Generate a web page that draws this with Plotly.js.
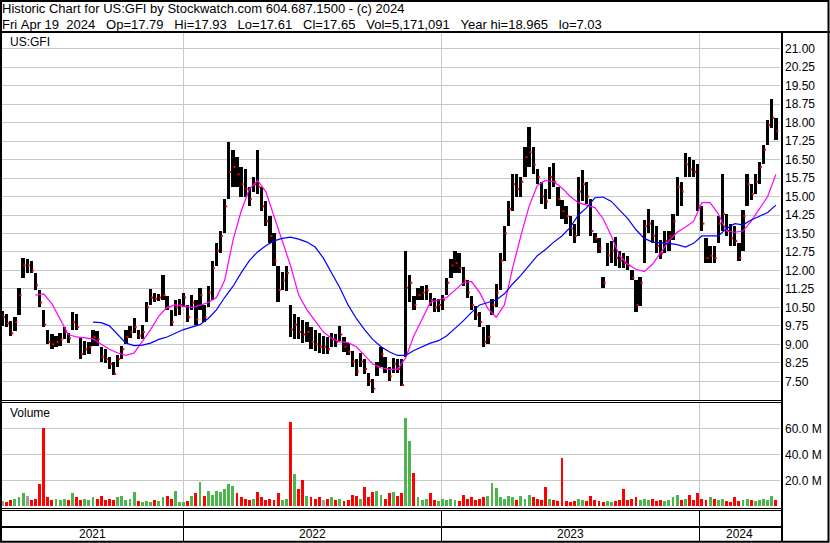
<!DOCTYPE html>
<html>
<head>
<meta charset="utf-8">
<script src="https://cdn.plot.ly/plotly-3.0.1.min.js"></script>
<style>html,body{margin:0;padding:0;background:#fff;}#chart{width:830px;height:543px;}</style>
</head>
<body>
<div id="chart"></div>
<script>
// ---- text ----
const headerLine1 = "Historic Chart for US:GFI by Stockwatch.com 604.687.1500 - (c) 2024";
const headerLine2 = "Fri Apr 19  2024   Op=17.79   Hi=17.93   Lo=17.61   Cl=17.65   Vol=5,171,091   Year hi=18.965   lo=7.03";
const symbolLabel = "US:GFI";
const volumeLabel = "Volume";
const yearLabels = ["2021", "2022", "2023", "2024"];
// trading-day index at which each new year starts, and last trading day shown
const yearStarts = [176, 427, 678];
const lastDay = 756;
const priceTicks = [7.5, 8.25, 9, 9.75, 10.5, 11.25, 12, 12.75, 13.5, 14.25, 15, 15.75, 16.5, 17.25, 18, 18.75, 19.5, 20.25, 21];
const volTickVals = [20, 40, 60];
const volTickText = ["20.0 M", "40.0 M", "60.0 M"];

// ---- price data: one bar per 4 trading days ----
const lows = [9.75,9.7,9.35,9.55,10.2,11.7,11.9,11.9,11.2,10.5,
9.7,9.0,8.8,8.9,8.95,9.2,9.05,9.6,9.6,8.4,
8.55,8.6,8.95,8.95,8.3,8.25,8.0,7.75,8.1,8.4,
9.0,9.25,9.45,9.2,9.2,9.9,10.6,10.7,10.75,10.8,
10.4,9.75,10.15,10.2,10.5,9.9,10.4,9.8,10.4,9.9,
10.5,10.8,12.2,12.7,13.5,14.9,15.4,15.4,15.0,15.0,
14.6,15.2,15.1,14.4,13.8,13.1,12.2,10.7,11.2,11.15,
9.3,9.2,9.2,9.05,9.1,8.8,8.75,8.65,8.6,8.6,
8.9,8.9,9.15,8.7,8.55,8.1,7.7,8.1,7.8,7.3,
7.03,7.7,8.1,7.85,7.5,7.85,7.85,7.3,8.5,10.7,
10.4,10.8,10.8,10.8,10.55,10.3,10.3,10.4,11.0,11.7,
11.9,11.9,11.35,10.9,10.4,10.0,9.7,8.9,9.0,10.2,
10.5,11.2,12.4,13.8,14.4,15.0,15.0,15.8,16.2,15.9,
15.5,14.7,14.5,14.9,15.4,14.6,14.1,13.9,13.4,13.1,
13.4,14.8,14.7,13.4,13.1,12.7,11.3,12.2,12.3,12.2,
12.1,12.1,12.0,11.6,10.33,10.55,12.3,13.5,13.1,12.7,
12.45,12.7,12.8,13.25,14.2,14.6,15.8,15.8,15.8,14.4,
13.6,12.3,12.3,12.3,13.1,13.6,13.4,13.0,13.0,12.4,
12.8,14.6,14.85,15.1,15.5,16.3,17.1,17.8,17.3];
const highs = [10.35,10.25,9.95,10.1,11.3,12.5,12.45,12.4,11.9,11.2,
10.4,9.6,9.4,9.35,9.45,9.7,9.45,10.3,10.25,9.25,
9.15,9.1,9.6,9.55,8.9,8.8,8.5,8.3,8.55,8.95,
9.6,9.75,10.05,9.6,9.8,10.7,11.25,11.1,11.05,11.8,
10.95,10.4,10.8,10.85,11.1,10.6,11.0,10.8,11.3,10.6,
11.35,12.4,13.1,13.6,14.9,17.2,16.9,16.6,16.2,16.1,
15.4,15.8,16.9,15.4,14.8,14.2,13.5,12.2,11.95,12.2,
10.6,10.25,10.1,10.0,9.9,9.7,9.6,9.45,9.35,9.3,
9.45,9.4,9.75,9.3,9.05,8.75,8.4,8.65,8.4,7.85,
7.6,8.3,8.9,8.5,8.1,8.45,8.4,8.4,12.8,11.8,
10.95,11.3,11.35,11.4,11.1,10.9,10.85,11.0,11.7,12.45,
12.8,12.7,12.15,11.6,10.95,10.55,10.3,9.7,9.8,10.85,
11.45,12.7,13.8,14.8,15.9,15.9,15.8,17.0,17.83,17.0,
16.1,15.6,15.3,16.2,16.35,15.4,14.85,14.6,14.2,13.9,
15.8,16.07,15.6,14.9,13.5,13.3,11.75,13.1,13.2,13.37,
12.8,12.7,12.6,12.0,11.6,11.75,14.05,14.5,14.05,13.8,
13.25,13.6,13.6,14.3,15.8,15.6,16.75,16.6,16.5,16.3,
14.6,13.3,13.0,13.0,14.2,15.93,14.3,13.9,13.8,13.1,
14.45,15.9,15.5,15.9,16.4,17.1,18.1,18.97,18.2];
const closes = [10.1,9.85,9.45,9.9,11.0,12.2,12.2,12.0,11.4,10.7,
9.8,9.1,9.0,9.1,9.2,9.5,9.25,9.9,9.7,8.6,
8.8,8.9,9.3,9.2,8.5,8.4,8.2,7.8,8.4,8.8,
9.3,9.5,9.7,9.35,9.5,10.5,10.9,10.85,10.9,11.0,
10.5,9.9,10.5,10.6,10.9,10.1,10.7,10.0,11.0,10.1,
11.1,12.1,12.8,13.4,14.6,16.0,16.2,15.9,15.5,15.3,
14.9,15.5,15.4,14.6,14.0,13.4,12.4,11.2,11.6,11.9,
9.6,9.8,9.5,9.4,9.5,9.1,9.0,8.9,8.9,8.8,
9.2,9.1,9.4,8.9,8.7,8.3,7.9,8.3,8.0,7.5,
7.2,8.1,8.6,8.0,7.7,8.2,8.0,7.35,11.3,11.5,
10.6,11.0,11.1,11.2,10.8,10.5,10.6,10.8,11.5,12.2,
12.3,12.1,11.6,11.1,10.6,10.2,9.9,9.1,9.3,10.6,
11.1,12.4,13.5,14.5,15.5,15.3,15.6,16.6,16.8,16.3,
15.8,15.0,14.8,15.8,15.6,14.9,14.4,14.2,13.7,13.4,
15.2,15.5,15.0,13.6,13.3,12.9,11.5,12.6,12.8,12.5,
12.4,12.3,12.2,11.7,10.6,11.5,13.8,13.9,13.4,13.0,
12.7,13.2,13.4,14.0,15.4,15.2,16.3,16.1,16.0,14.6,
13.9,12.5,12.6,12.5,13.9,14.3,13.6,13.3,13.2,12.5,
14.2,15.5,15.1,15.6,16.2,16.9,17.9,18.2,17.65];
// volume in millions of shares
const volumes = [4,3,5,6,7,10,8,5,6,17,
60,7,5,6,5,6,5,10,7,5,
6,5,7,6,8,5,6,5,7,8,
5,6,11,4,3,4,3,5,4,7,
8,6,12,3,3,4,8,10,19,8,
12,9,12,11,13,17,16,10,7,6,
5,6,11,7,5,6,5,10,5,6,
65,25,13,20,8,7,6,7,5,6,
7,5,6,4,5,9,8,6,15,7,
11,12,9,6,10,11,8,10,68,50,
26,7,5,6,10,5,4,6,5,6,
5,4,9,6,7,5,6,7,8,18,
14,7,6,8,7,5,8,6,9,7,
6,5,15,6,5,4,37,4,3,4,
6,5,4,8,5,4,3,4,3,4,
5,13,5,6,7,5,6,5,6,4,
5,4,5,7,9,5,6,9,5,10,
6,5,7,6,5,6,4,3,7,4,
5,6,5,4,5,6,5,8,5];
// moving averages, one reading per 8 trading days
const maFast = [null,null,null,null,11.0,11.05,10.65,10.05,9.4,9.3,
9.25,9.22,9.0,8.8,8.65,8.55,8.65,9.1,9.6,10.15,
10.5,10.6,10.55,10.5,10.58,10.7,10.9,11.6,13.2,14.4,
15.3,15.65,15.2,14.2,13.2,12.2,11.0,10.4,9.95,9.5,
9.25,9.1,9.07,8.9,8.55,8.2,8.05,7.98,7.98,8.45,
9.35,10.05,10.7,10.8,10.9,11.2,11.5,11.55,11.1,10.45,
10.1,10.6,12.1,13.4,14.6,15.45,15.65,15.6,15.35,15.0,
14.75,14.65,14.55,14.1,13.4,12.6,12.25,12.05,11.95,12.25,
12.7,13.2,13.55,13.75,14.0,14.75,14.75,14.3,13.6,13.55,
13.6,14.0,14.5,15.0,15.9];
const maSlow = [null,null,null,null,null,null,null,null,null,null,
null,9.9,9.88,9.75,9.4,9.05,8.95,8.97,9.05,9.2,
9.3,9.45,9.6,9.7,9.8,10.05,10.4,10.9,11.35,11.9,
12.4,12.75,13.0,13.2,13.3,13.35,13.27,13.15,12.95,12.5,
11.9,11.3,10.6,10.05,9.6,9.2,8.9,8.7,8.55,8.55,
8.75,8.9,9.05,9.15,9.35,9.65,9.95,10.3,10.6,10.7,
10.8,11.05,11.45,11.8,12.2,12.6,12.85,13.15,13.4,13.75,
14.25,14.55,14.95,14.98,14.8,14.45,14.1,13.65,13.3,13.15,
13.13,13.1,13.05,12.95,13.1,13.4,13.4,13.4,13.7,13.9,
13.85,14.05,14.2,14.35,14.65];

// ---- derived ----
const STEP = 4;
const days = lows.map((_, i) => i * STEP);
const maDays = maFast.map((_, i) => i * STEP * 2);
const ranges = highs.map((h, i) => h - lows[i]);
const volColors = closes.map((c, i) => {
  if (i === 0) return '#a0a0a0';
  if (c > closes[i - 1]) return '#4db54d';
  if (c < closes[i - 1]) return '#ff0000';
  return '#a0a0a0';
});

// ---- geometry helpers (pixel -> paper) ----
const W = 830, H = 543;
const px = v => v / W;
const py = v => 1 - v / H;
const X0 = 2, X1 = 780;
const xDomain = [px(X0), px(X1)];
const xRange = [-0.5, lastDay];

const FONT = 'Liberation Sans, Arial, sans-serif';
const gridGray = '#c8c8c8';

const traces = [
  {type: 'bar', x: days, base: lows, y: ranges, width: 3.2,
   marker: {color: '#000000', line: {width: 0}}, xaxis: 'x', yaxis: 'y', hoverinfo: 'skip'},
  {type: 'scatter', mode: 'markers', x: days.map(d => d + 1.5), y: closes,
   marker: {symbol: 'square', size: 2, color: '#ff0000', line: {width: 0}}, xaxis: 'x', yaxis: 'y'},
  {type: 'scatter', mode: 'lines', x: maDays, y: maFast, line: {color: '#ff00ff', width: 1.2}, xaxis: 'x', yaxis: 'y'},
  {type: 'scatter', mode: 'lines', x: maDays, y: maSlow, line: {color: '#0000ff', width: 1.2}, xaxis: 'x', yaxis: 'y'},
  {type: 'bar', x: days, y: volumes, width: 2.8, marker: {color: volColors, line: {width: 0}}, xaxis: 'x2', yaxis: 'y2'},
  {type: 'scatter', mode: 'markers', x: [], y: [], xaxis: 'x3', yaxis: 'y3'}
];

const bounds = [xRange[0]].concat(yearStarts, [lastDay]);
const yearMids = yearLabels.map((_, i) => (bounds[i] + bounds[i + 1]) / 2);

const headerFont = {family: FONT, size: 13, color: '#000'};
const annotations = [
  {text: headerLine1.replace(/ /g, '\u00a0'), xref: 'paper', yref: 'paper', x: px(0), y: py(9), xanchor: 'left', yanchor: 'middle', showarrow: false, font: headerFont},
  {text: headerLine2.replace(/ /g, '\u00a0'), xref: 'paper', yref: 'paper', x: px(0), y: py(24), xanchor: 'left', yanchor: 'middle', showarrow: false, font: headerFont},
  {text: symbolLabel, xref: 'paper', yref: 'paper', x: px(8), y: py(42), xanchor: 'left', yanchor: 'middle', showarrow: false, font: {family: FONT, size: 12, color: '#000'}},
  {text: volumeLabel, xref: 'paper', yref: 'paper', x: px(8), y: py(413), xanchor: 'left', yanchor: 'middle', showarrow: false, font: {family: FONT, size: 12, color: '#000'}}
].concat(yearLabels.map((t, i) => ({
  text: t, xref: 'x3', yref: 'paper', x: yearMids[i], y: py(534), xanchor: 'center', yanchor: 'middle', showarrow: false, font: {family: FONT, size: 12, color: '#000'}
})));

const hline = (y, w, x0 = 0, x1 = 782) => ({type: 'line', xref: 'paper', yref: 'paper', x0: px(x0), x1: px(x1), y0: py(y), y1: py(y), line: {color: '#000', width: w}});
const shapes = [
  {type: 'rect', xref: 'paper', yref: 'paper', x0: px(1), x1: px(828.5), y0: py(1), y1: py(541.8), line: {color: '#000', width: 2}},
  hline(32, 2, 0, 830),
  hline(400.5, 1), hline(402.5, 1),
  hline(508.5, 1), hline(510.5, 1),
  hline(527, 2),
  {type: 'line', xref: 'paper', yref: 'paper', x0: px(782), x1: px(782), y0: py(32), y1: py(542), line: {color: '#000', width: 2}}
];

const xCommon = {domain: xDomain, range: xRange, tickmode: 'array', tickvals: yearStarts, showticklabels: false,
  ticks: '', showgrid: true, gridcolor: gridGray, gridwidth: 1, zeroline: false, showline: false, fixedrange: true};

const layout = {
  width: W, height: H, margin: {l: 0, r: 0, t: 0, b: 0, pad: 0},
  paper_bgcolor: '#ffffff', plot_bgcolor: '#ffffff', showlegend: false,
  font: {family: FONT, size: 12, color: '#000'},
  bargap: 0,
  xaxis: Object.assign({}, xCommon, {anchor: 'y'}),
  yaxis: {domain: [py(400), py(33)], range: [6.741, 21.637], side: 'right', anchor: 'x',
    tickmode: 'array', tickvals: priceTicks, tickformat: '.2f', ticks: '', ticklabelstandoff: 4,
    showgrid: true, gridcolor: gridGray, zeroline: false, showline: false, tickfont: {family: FONT, size: 12, color: '#000'}},
  xaxis2: Object.assign({}, xCommon, {anchor: 'y2'}),
  yaxis2: {domain: [py(507), py(402)], range: [-0.54, 80.23], side: 'right', anchor: 'x2',
    tickmode: 'array', tickvals: volTickVals, ticktext: volTickText, ticks: '', ticklabelstandoff: 4,
    showgrid: true, gridcolor: gridGray, zeroline: false, showline: false, tickfont: {family: FONT, size: 12, color: '#000'}},
  xaxis3: Object.assign({}, xCommon, {anchor: 'y3', gridcolor: '#000000'}),
  yaxis3: {domain: [py(541), py(511)], range: [0, 1], showgrid: false, showticklabels: false, zeroline: false, showline: false, ticks: '', anchor: 'x3'},
  annotations: annotations,
  shapes: shapes
};

Plotly.newPlot('chart', traces, layout, {displayModeBar: false, staticPlot: true});
</script>
</body>
</html>
